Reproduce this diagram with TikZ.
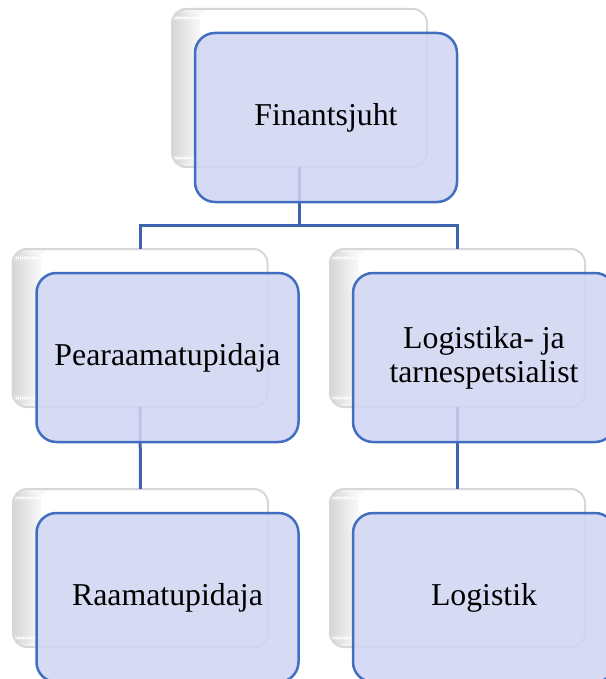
\documentclass[tikz,border=0pt]{standalone}
\usepackage{fontspec}
\setmainfont{Liberation Serif}
\definecolor{frontfill}{RGB}{208,212,242}
\definecolor{frontdraw}{RGB}{66,110,192}
\definecolor{linkcol}{RGB}{62,100,176}
\definecolor{backdraw}{RGB}{215,215,218}
\tikzset{
  backbox/.style={draw=backdraw, line width=2pt, fill=white, rounded corners=14pt,
    minimum width=255pt, minimum height=158pt, inner sep=0pt, outer sep=0pt,
    path picture={\foreach \i in {0,...,13}{%
        \pgfmathtruncatemacro{\shadepct}{16-\i}%
        \fill[black!\shadepct] ([xshift=\i*2pt]path picture bounding box.south west)
          rectangle ([xshift=\i*2pt+2.3pt]path picture bounding box.north west);}}},
  frontbox/.style={draw=frontdraw, line width=2.5pt, fill=frontfill, fill opacity=0.86, text opacity=1,
    rounded corners=20pt, minimum width=262pt, minimum height=169pt, inner sep=0pt, outer sep=0pt,
    align=center, font=\fontsize{31.8}{34}\selectfont},
  link/.style={draw=linkcol, line width=3pt}
}
\begin{document}
\begin{tikzpicture}[x=1pt,y=-1pt]
\useasboundingbox (0,0) rectangle (605,679);
% back boxes
\node[backbox] (b0) at (299.5,88) {};
\node[backbox] (b1) at (140,328) {};
\node[backbox] (b2) at (457.5,328) {};
\node[backbox] (b3) at (140.5,568) {};
\node[backbox] (b4) at (457.5,568) {};
% connectors
\coordinate (bar) at (0,225);
\draw[link] (b0.south) -- (b0.south |- bar) -| (b1.north);
\draw[link] (b0.south |- bar) -| (b2.north);
\draw[link] (b1.south) -- (b3.north);
\draw[link] (b2.south) -- (b4.north);
% front boxes
\node[frontbox] (f0) at (326,117.5) {Finantsjuht};
\node[frontbox] (f1) at (167.5,357.5) {Pearaamatupidaja};
\node[frontbox] (f2) at (484,357.5) {Logistika- ja\\tarnespetsialist};
\node[frontbox] (f3) at (167.5,597.5) {Raamatupidaja};
\node[frontbox] (f4) at (484,597.5) {Logistik};
\end{tikzpicture}
\end{document}
